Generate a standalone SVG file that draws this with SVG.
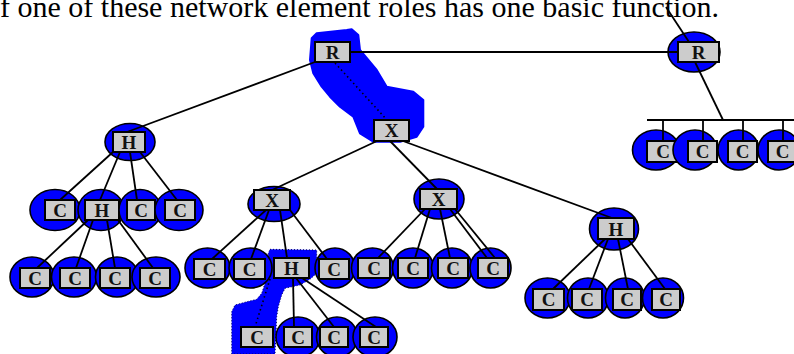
<svg xmlns="http://www.w3.org/2000/svg" width="794" height="354" viewBox="0 0 794 354">
<style>
.e{fill:#0000FF;stroke:#000;stroke-width:1.6}
.r{fill:#CCCCCC;stroke:#000;stroke-width:2}
.t{font-family:"Liberation Serif","Times New Roman",serif;font-weight:bold;font-size:19px;fill:#111;text-anchor:middle}
.ln{stroke:#000;stroke-width:1.8;fill:none}
.dot{stroke:#000;stroke-width:1.6;stroke-dasharray:1.5,3;fill:none}
.blob{fill:#0000FF;stroke:#0000FF;stroke-width:2;stroke-linejoin:round}
.blob2{fill:#0000FF;stroke:#000060;stroke-width:1;stroke-dasharray:1,2;stroke-linejoin:round}
</style>
<rect width="794" height="354" fill="#fff"/>
<text x="0" y="17" font-family="Liberation Serif, Times New Roman, serif" font-size="30" fill="#000">f one of these network element roles has one basic function.</text>

<g id="blobs">
<polygon class="blob" points="311.7,38.3 316.7,33.3 346.7,30 351.7,29.3 358.3,35 360,50 376.7,70 386.7,86.7 413.3,91.7 423.3,100 423.3,126.7 416.7,136.7 400,141.7 373.3,141.7 360,133.3 353.3,116.7 340,106.7 330,96.7 321.7,86.7 313.3,73.3 310,60"/>
<polygon class="blob2" points="270,249.3 316.7,250 316.7,273.3 310,279.3 300,285 285,288.3 281.7,295 278.3,306.7 276.7,316.7 275,354 231.7,354 231.7,311.7 235,305 246.7,301.7 256.7,299.3 261.7,293.3 265,283.3 266.7,273.3 268.3,253.3"/>
</g>

<g id="n-R1"><rect class="r" x="315" y="42" width="35" height="20"/><text class="t" x="332.5" y="59">R</text></g>
<g id="n-R2"><ellipse class="e" cx="694" cy="52" rx="26" ry="20"/><rect class="r" x="678" y="42" width="41" height="20"/><text class="t" x="698.5" y="59">R</text></g>
<g id="n-X0"><rect class="r" x="374" y="120" width="35" height="21"/><text class="t" x="391.5" y="137">X</text></g>

<g id="n-H1"><ellipse class="e" cx="130" cy="142" rx="25" ry="18.5"/><rect class="r" x="113" y="132" width="32" height="20"/><text class="t" x="129" y="149">H</text></g>
<g id="n-C11"><ellipse class="e" cx="55" cy="210" rx="25" ry="20.5"/><rect class="r" x="45" y="200" width="30" height="20"/><text class="t" x="60" y="217">C</text></g>
<g id="n-H2"><ellipse class="e" cx="101" cy="210" rx="23" ry="20.5"/><rect class="r" x="85" y="200" width="34" height="20"/><text class="t" x="102" y="217">H</text></g>
<g id="n-C13"><ellipse class="e" cx="140" cy="210" rx="21" ry="20.5"/><rect class="r" x="127" y="200" width="28" height="20"/><text class="t" x="141" y="217">C</text></g>
<g id="n-C14"><ellipse class="e" cx="179" cy="210" rx="24" ry="20.5"/><rect class="r" x="165" y="200" width="30" height="20"/><text class="t" x="180" y="217">C</text></g>

<g id="n-C21"><ellipse class="e" cx="32" cy="277" rx="22" ry="20"/><rect class="r" x="20" y="268" width="30" height="20"/><text class="t" x="35" y="285">C</text></g>
<g id="n-C22"><ellipse class="e" cx="74" cy="277" rx="22.5" ry="20"/><rect class="r" x="60" y="268" width="30" height="20"/><text class="t" x="75" y="285">C</text></g>
<g id="n-C23"><ellipse class="e" cx="117" cy="277" rx="21.5" ry="20"/><rect class="r" x="100" y="268" width="30" height="20"/><text class="t" x="115" y="285">C</text></g>
<g id="n-C24"><ellipse class="e" cx="156" cy="277" rx="24" ry="20"/><rect class="r" x="140" y="268" width="30" height="20"/><text class="t" x="155" y="285">C</text></g>

<g id="n-X1"><ellipse class="e" cx="274" cy="204" rx="26" ry="17.5"/><rect class="r" x="254" y="190" width="36" height="20"/><text class="t" x="272" y="207">X</text></g>
<g id="n-C31"><ellipse class="e" cx="207.5" cy="268" rx="22.5" ry="20"/><rect class="r" x="194" y="259" width="31" height="20"/><text class="t" x="209.5" y="276">C</text></g>
<g id="n-C32"><ellipse class="e" cx="250.5" cy="268" rx="21.5" ry="20"/><rect class="r" x="234" y="259" width="31" height="20"/><text class="t" x="249.5" y="276">C</text></g>
<g id="n-H3"><rect class="r" x="274" y="258" width="35" height="20"/><text class="t" x="291.5" y="275">H</text></g>
<g id="n-C34"><ellipse class="e" cx="335" cy="268" rx="20" ry="20"/><rect class="r" x="319" y="259" width="30" height="20"/><text class="t" x="334" y="276">C</text></g>

<g id="n-X2"><ellipse class="e" cx="439" cy="199" rx="25" ry="20"/><rect class="r" x="420" y="189" width="37" height="20"/><text class="t" x="438.5" y="206">X</text></g>
<g id="n-C41"><ellipse class="e" cx="372.5" cy="268" rx="21" ry="20"/><rect class="r" x="358" y="258" width="32" height="20"/><text class="t" x="374" y="275">C</text></g>
<g id="n-C42"><ellipse class="e" cx="413" cy="268" rx="20.5" ry="20"/><rect class="r" x="398" y="258" width="30" height="20"/><text class="t" x="413" y="275">C</text></g>
<g id="n-C43"><ellipse class="e" cx="452" cy="268" rx="20.5" ry="20"/><rect class="r" x="438" y="258" width="30" height="20"/><text class="t" x="453" y="275">C</text></g>
<g id="n-C44"><ellipse class="e" cx="490.5" cy="268" rx="20.5" ry="20"/><rect class="r" x="478" y="258" width="30" height="20"/><text class="t" x="493" y="275">C</text></g>

<g id="n-C51"><rect class="r" x="241" y="327" width="32" height="20"/><text class="t" x="257" y="344">C</text></g>
<g id="n-C52"><ellipse class="e" cx="298" cy="337" rx="22" ry="20"/><rect class="r" x="284" y="327" width="28" height="20"/><text class="t" x="298" y="344">C</text></g>
<g id="n-C53"><ellipse class="e" cx="337" cy="337" rx="20.5" ry="20"/><rect class="r" x="320" y="327" width="28" height="20"/><text class="t" x="334" y="344">C</text></g>
<g id="n-C54"><ellipse class="e" cx="375" cy="337" rx="22" ry="20"/><rect class="r" x="360" y="327" width="28" height="20"/><text class="t" x="374" y="344">C</text></g>

<g id="n-H4"><ellipse class="e" cx="614" cy="229" rx="24.5" ry="21"/><rect class="r" x="598" y="218" width="36" height="21"/><text class="t" x="616" y="236">H</text></g>
<g id="n-C61"><ellipse class="e" cx="547.5" cy="298" rx="22.5" ry="20"/><rect class="r" x="533" y="289" width="31" height="21"/><text class="t" x="548.5" y="306">C</text></g>
<g id="n-C62"><ellipse class="e" cx="588" cy="298" rx="20.5" ry="20"/><rect class="r" x="572" y="289" width="30" height="21"/><text class="t" x="587" y="306">C</text></g>
<g id="n-C63"><ellipse class="e" cx="625" cy="298" rx="19.5" ry="20"/><rect class="r" x="613" y="289" width="28" height="21"/><text class="t" x="627" y="306">C</text></g>
<g id="n-C64"><ellipse class="e" cx="663" cy="298" rx="20.5" ry="20"/><rect class="r" x="652" y="289" width="28" height="21"/><text class="t" x="666" y="306">C</text></g>

<g id="n-C71"><ellipse class="e" cx="656" cy="150" rx="23.5" ry="20"/><rect class="r" x="647" y="141" width="32" height="21"/><text class="t" x="663" y="158">C</text></g>
<g id="n-C72"><ellipse class="e" cx="695" cy="150" rx="22" ry="20"/><rect class="r" x="688" y="141" width="29" height="21"/><text class="t" x="702.5" y="158">C</text></g>
<g id="n-C73"><ellipse class="e" cx="738.5" cy="150" rx="20.5" ry="20"/><rect class="r" x="728" y="141" width="29" height="21"/><text class="t" x="742.5" y="158">C</text></g>
<g id="n-C74"><ellipse class="e" cx="779" cy="150" rx="21" ry="20"/><rect class="r" x="768" y="141" width="29" height="21"/><text class="t" x="782.5" y="158">C</text></g>

<g id="connectors">
<line class="ln" x1="350" y1="52" x2="678" y2="52"/>
<line class="ln" x1="315" y1="62" x2="127" y2="132"/>
<line class="dot" x1="335" y1="63" x2="387" y2="120"/>
<line class="ln" x1="666" y1="7" x2="689" y2="42"/>
<line class="ln" x1="695" y1="62" x2="723" y2="120"/>
<line class="ln" x1="647" y1="120" x2="794" y2="120"/>
<line class="ln" x1="663" y1="120" x2="663" y2="141"/>
<line class="ln" x1="703" y1="120" x2="703" y2="141"/>
<line class="ln" x1="743" y1="120" x2="743" y2="141"/>
<line class="ln" x1="783" y1="120" x2="783" y2="141"/>
<line class="ln" x1="113" y1="152" x2="60" y2="200"/>
<line class="ln" x1="120" y1="152" x2="100" y2="200"/>
<line class="ln" x1="130" y1="152" x2="137" y2="200"/>
<line class="ln" x1="140" y1="152" x2="177" y2="200"/>
<line class="ln" x1="88" y1="220" x2="37" y2="268"/>
<line class="ln" x1="93" y1="220" x2="76" y2="268"/>
<line class="ln" x1="107" y1="220" x2="115" y2="268"/>
<line class="ln" x1="118" y1="220" x2="153" y2="268"/>
<line class="ln" x1="377" y1="141" x2="272" y2="190"/>
<line class="ln" x1="390" y1="141" x2="437" y2="189"/>
<line class="ln" x1="403" y1="141" x2="612" y2="218"/>
<line class="ln" x1="266" y1="210" x2="212" y2="259"/>
<line class="ln" x1="269" y1="210" x2="251" y2="259"/>
<line class="ln" x1="280" y1="210" x2="287" y2="258"/>
<line class="ln" x1="290" y1="210" x2="327" y2="259"/>
<line class="ln" x1="293" y1="278" x2="294" y2="327"/>
<line class="ln" x1="296" y1="278" x2="334" y2="327"/>
<line class="ln" x1="302" y1="278" x2="376" y2="327"/>
<line class="dot" x1="270" y1="279" x2="255" y2="327"/>
<line class="ln" x1="425" y1="209" x2="378" y2="258"/>
<line class="ln" x1="430" y1="209" x2="415" y2="258"/>
<line class="ln" x1="440" y1="209" x2="450" y2="258"/>
<line class="ln" x1="450" y1="209" x2="487" y2="258"/>
<line class="ln" x1="455" y1="209" x2="495" y2="258"/>
<line class="ln" x1="605" y1="239" x2="553" y2="289"/>
<line class="ln" x1="608" y1="239" x2="589" y2="289"/>
<line class="ln" x1="618" y1="239" x2="628" y2="289"/>
<line class="ln" x1="628" y1="239" x2="665" y2="289"/>
</g>
</svg>
